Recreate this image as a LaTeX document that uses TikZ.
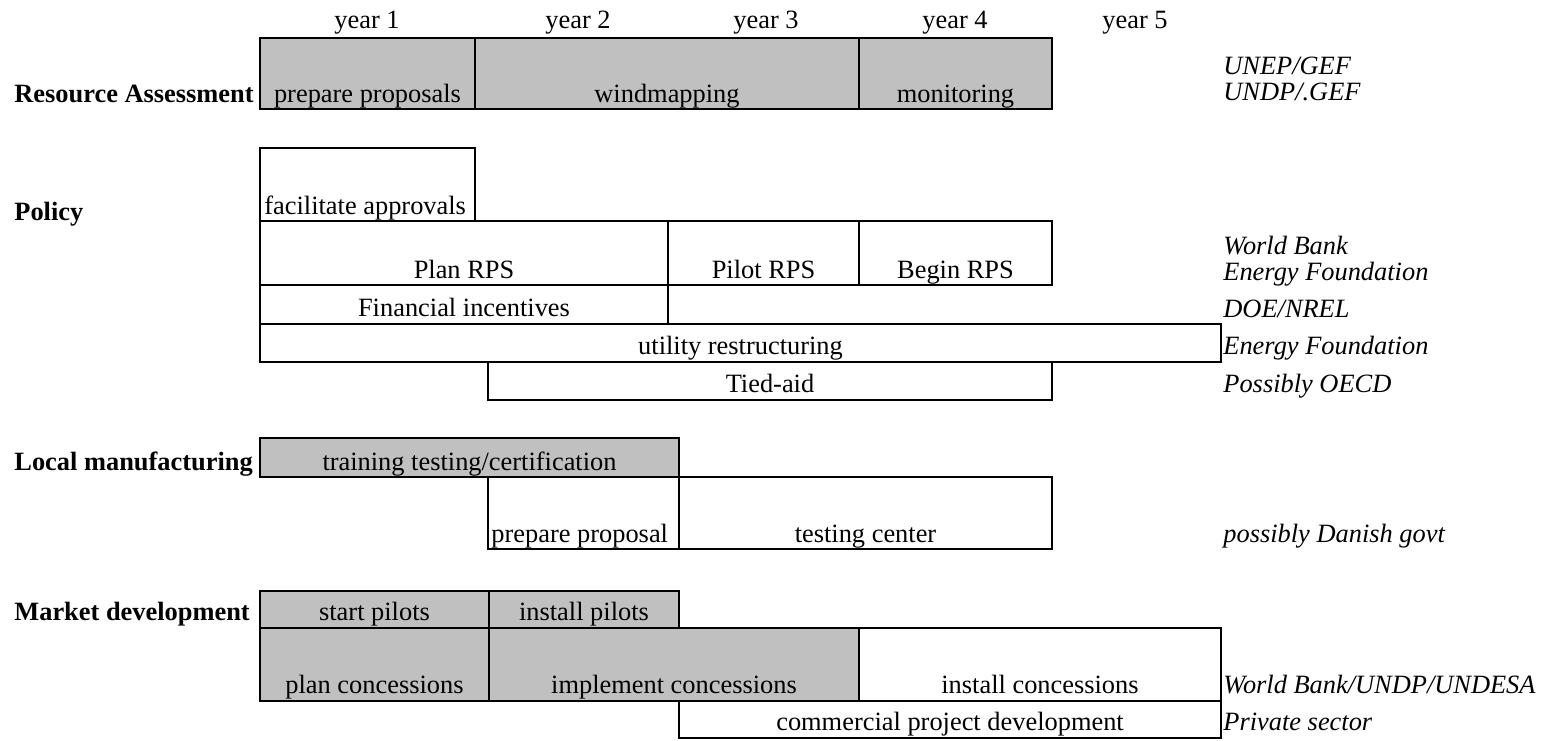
\documentclass[tikz,border=0pt]{standalone}
\usepackage{fontspec}
\setmainfont{Liberation Serif}
\definecolor{barg}{RGB}{192,192,192}
\begin{document}
\begin{tikzpicture}[x=0.5pt,y=-0.5pt,
  font=\fontsize{13.2}{15}\selectfont,
  bar/.style={draw=black, line width=1.3pt},
  greybar/.style={bar, fill=barg},
  txt/.style={anchor=base, inner sep=0pt},
  ltxt/.style={anchor=base west, inner sep=0pt},
  lbl/.style={anchor=base west, inner sep=0pt, font=\fontsize{13.2}{15}\selectfont\bfseries},
  fund/.style={anchor=base west, inner sep=0pt, font=\fontsize{13.2}{15}\selectfont\itshape}]
\useasboundingbox (0,0) rectangle (1554,740);

% year headers
\node[txt] (y1) at (367,28) {year 1};
\node[txt] (y2) at (578,28) {year 2};
\node[txt] (y3) at (766,28) {year 3};
\node[txt] (y4) at (955,28) {year 4};
\node[txt] (y5) at (1135,28) {year 5};

% Resource Assessment
\path[greybar] (260,38) rectangle (475,109);
\path[greybar] (475,38) rectangle (859,109);
\path[greybar] (859,38) rectangle (1052,109);
\node[lbl] (ra) at (14,102) {Resource Assessment};
\node[txt] (pp) at (367.5,102) {prepare proposals};
\node[txt] (wm) at (667,102) {windmapping};
\node[txt] (mo) at (955.5,102) {monitoring};
\node[fund] (f1) at (1223,74) {UNEP/GEF};
\node[fund] (f2) at (1223,100) {UNDP/.GEF};

% Policy
\path[bar] (260,148) rectangle (475,221);
\path[bar] (260,221) rectangle (668,285);
\path[bar] (668,221) rectangle (859,285);
\path[bar] (859,221) rectangle (1052,285);
\path[bar] (260,285) rectangle (668,324);
\path[bar] (260,324) rectangle (1221,362);
\path[bar] (488,362) rectangle (1052,400);
\node[lbl] (po) at (14,220) {Policy};
\node[ltxt] (fa) at (264,214) {facilitate approvals};
\node[txt] (plan) at (464,278) {Plan RPS};
\node[txt] (pilot) at (763.5,278) {Pilot RPS};
\node[txt] (begin) at (955.5,278) {Begin RPS};
\node[txt] (fi) at (464,316) {Financial incentives};
\node[txt] (ur) at (740.5,354) {utility restructuring};
\node[txt] (ta) at (770,392) {Tied-aid};
\node[fund] (f3) at (1223,254) {World Bank};
\node[fund] (f4) at (1223,280) {Energy Foundation};
\node[fund] (f5) at (1223,317) {DOE/NREL};
\node[fund] (f6) at (1223,354) {Energy Foundation};
\node[fund] (f7) at (1223,392) {Possibly OECD};

% Local manufacturing
\path[greybar] (260,438) rectangle (679,477);
\path[bar] (488,477) rectangle (679,549);
\path[bar] (679,477) rectangle (1052,549);
\node[lbl] (lm) at (14,470) {Local manufacturing};
\node[txt] (tt) at (469.5,470) {training testing/certification};
\node[ltxt] (pr) at (491,542) {prepare proposal};
\node[txt] (tc) at (865.5,542) {testing center};
\node[fund] (f8) at (1223,542) {possibly Danish govt};

% Market development
\path[greybar] (260,591) rectangle (489,628);
\path[greybar] (489,591) rectangle (679,628);
\path[greybar] (260,628) rectangle (489,701);
\path[greybar] (489,628) rectangle (859,701);
\path[bar] (859,628) rectangle (1221,701);
\path[bar] (679,701) rectangle (1221,738);
\node[lbl] (md) at (14,620) {Market development};
\node[txt] (sp) at (374.5,620) {start pilots};
\node[txt] (ip) at (584,620) {install pilots};
\node[txt] (pc) at (374.5,693) {plan concessions};
\node[txt] (ic) at (674,693) {implement concessions};
\node[txt] (inc) at (1040,693) {install concessions};
\node[txt] (cp) at (950,730) {commercial project development};
\node[fund] (f9) at (1223,693) {World Bank/UNDP/UNDESA};
\node[fund] (f10) at (1223,730) {Private sector};
\end{tikzpicture}
\end{document}
